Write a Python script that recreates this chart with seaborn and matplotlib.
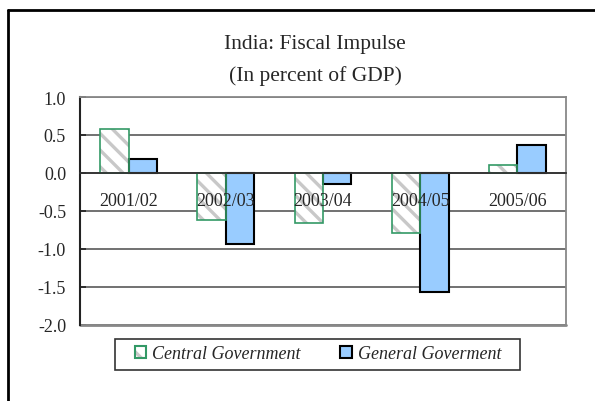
import matplotlib
matplotlib.use("Agg")
import matplotlib.pyplot as plt
from matplotlib.patches import Rectangle, Patch
from matplotlib.lines import Line2D
import seaborn as sns
import pandas as pd

years = ["2001/02", "2002/03", "2003/04", "2004/05", "2005/06"]
central_gov = [0.58, -0.62, -0.66, -0.79, 0.10]
general_gov = [0.18, -0.94, -0.14, -1.56, 0.37]
series_names = ["Central Government", "General Goverment"]
y_ticks = [1.0, 0.5, 0.0, -0.5, -1.0, -1.5, -2.0]

df = pd.DataFrame({
    "year": years * 2,
    "value": central_gov + general_gov,
    "series": [series_names[0]] * len(years) + [series_names[1]] * len(years),
})

sns.set_style("white")
plt.rcParams["font.family"] = ["Liberation Serif", "DejaVu Serif"]
plt.rcParams["hatch.linewidth"] = 2.4

GREEN = "#339966"
BLUE = "#99CCFF"
HATCH = "#C8C8C8"
STRIPES = "\\\\"

fig = plt.figure(figsize=(5.95, 4.02), dpi=100)
ax = fig.add_axes([80 / 595, 1 - 326 / 402, 486 / 595, 228 / 402])

sns.barplot(data=df, x="year", y="value", hue="series", order=years,
            hue_order=series_names, palette=["white", BLUE], width=0.586,
            gap=0, dodge=True, legend=False, ax=ax, errorbar=None,
            edgecolor="black", linewidth=1.5, saturation=1)

# Hatched central-government bars with a green outline on top
for p in ax.containers[0]:
    p.set_edgecolor(HATCH)
    p.set_linewidth(0)
    p.set_hatch(STRIPES)
    ax.add_patch(Rectangle(p.get_xy(), p.get_width(), p.get_height(),
                           fill=False, edgecolor=GREEN, linewidth=1.2,
                           zorder=p.get_zorder() + 0.1))

ax.set_ylim(-2, 1)
ax.set_xlim(-0.5, len(years) - 0.5)
ax.set_yticks(y_ticks)
ax.set_yticklabels([f"{v:.1f}" for v in y_ticks])
ax.set_xlabel("")
ax.set_ylabel("")

ax.yaxis.grid(True, color="#4a4a4a", linewidth=1.1)
ax.set_axisbelow(True)
ax.xaxis.set_zorder(3)

# x axis sits on the zero line, with boundary ticks between years
ax.spines["bottom"].set_position(("data", 0))
ax.spines["bottom"].set_color("#333333")
ax.spines["bottom"].set_linewidth(1.3)
ax.spines["left"].set_color("#222222")
ax.spines["left"].set_linewidth(1.5)
for s in ("top", "right"):
    ax.spines[s].set_color("#888888")
    ax.spines[s].set_linewidth(1.3)
ax.axhline(-2, color="#888888", linewidth=2.0, zorder=2.5, clip_on=False)

ax.set_xticks(range(len(years)))
ax.set_xticks([i + 0.5 for i in range(len(years))], minor=True)
ax.tick_params(axis="x", which="major", length=0, pad=14, labelsize=13)
ax.tick_params(axis="x", which="minor", direction="in", length=4.5,
               width=1.2, color="#333333")
ax.tick_params(axis="y", which="major", direction="in", length=4.5,
               width=1.2, color="#222222", pad=10, labelsize=13, left=True)

fig.text(315 / 595, 1 - 45 / 402, "India: Fiscal Impulse", ha="center",
         va="center", fontsize=15.5)
fig.text(315 / 595, 1 - 76 / 402, "(In percent of GDP)", ha="center",
         va="center", fontsize=15.5)

# Legend: hatched swatch with a green outline, and a plain blue swatch
central_handle = (
    Patch(facecolor="white", edgecolor=HATCH, hatch=STRIPES, linewidth=0),
    Patch(facecolor="none", edgecolor=GREEN, linewidth=1.5),
)
general_handle = Patch(facecolor=BLUE, edgecolor="black", linewidth=1.5)
leg = fig.legend([central_handle, general_handle], series_names, loc="center",
                 bbox_to_anchor=(318 / 595, 1 - 355 / 402), ncol=2,
                 frameon=False, prop={"style": "italic", "size": 13},
                 handlelength=0.62, handleheight=0.62, handletextpad=0.35,
                 columnspacing=2.2)
fig.add_artist(Rectangle((115 / 595, 1 - 371 / 402), 405 / 595, 31 / 402,
                         transform=fig.transFigure, fill=False,
                         edgecolor="#333333", linewidth=1.2))

# Outer frame edges
fig.add_artist(Line2D([8 / 595, 1], [1 - 11 / 402, 1 - 11 / 402],
                      transform=fig.transFigure, color="black", linewidth=2.0))
fig.add_artist(Line2D([8 / 595, 8 / 595], [0, 1 - 11 / 402],
                      transform=fig.transFigure, color="black", linewidth=2.0))

fig.savefig("out.png", dpi=100)
